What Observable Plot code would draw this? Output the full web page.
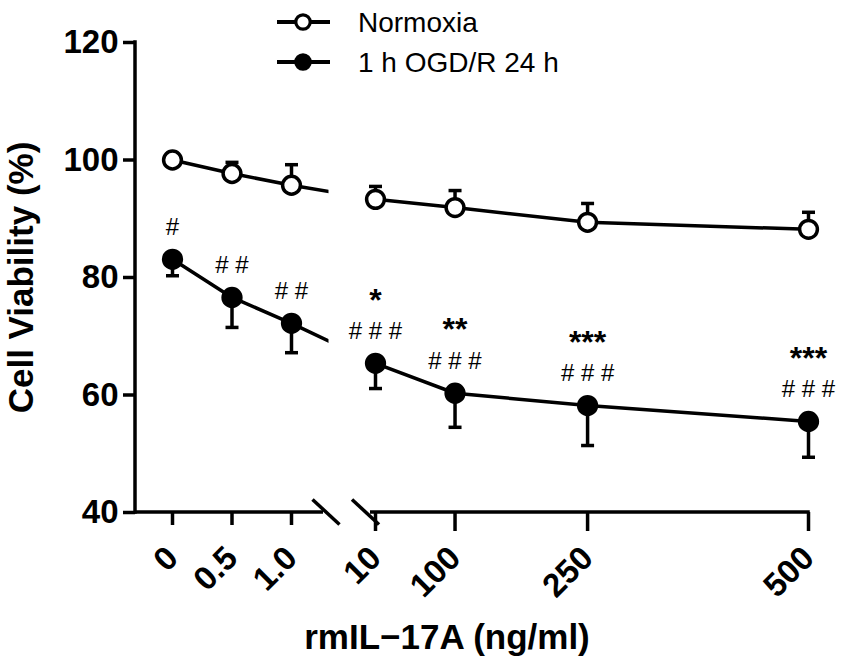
<!DOCTYPE html>
<html>
<head>
<meta charset="utf-8">
<script src="https://cdn.jsdelivr.net/npm/d3@7"></script>
<script src="https://cdn.jsdelivr.net/npm/@observablehq/plot@0.6"></script>
<style>
  body { margin: 0; background: #fff; }
  #chart { position: relative; width: 850px; height: 666px; }
</style>
</head>
<body>
<div id="chart"></div>
<script>
// ---- data ----
const doses = [0, 0.5, 1, 10, 100, 250, 500];
const doseLabels = ["0", "0.5", "1.0", "10", "100", "250", "500"];
const seriesNames = ["Normoxia", "1 h OGD/R 24 h"];
const normoxiaMean = [100.0, 97.7, 95.7, 93.3, 91.9, 89.4, 88.2];
const normoxiaSD   = [0.3, 1.9, 3.5, 2.2, 2.9, 3.2, 2.9];
const ogdMean      = [83.1, 76.6, 72.2, 65.4, 60.3, 58.2, 55.5];
const ogdSD        = [2.8, 5.1, 5.0, 4.3, 5.8, 6.8, 6.1];
const hashMarks    = ["#", "# #", "# #", "# # #", "# # #", "# # #", "# # #"];
const starMarks    = ["", "", "", "*", "**", "***", "***"];
const yTicks = [40, 60, 80, 100, 120];
const yTitle = "Cell Viability (%)";
const xTitle = "rmIL\u221217A (ng/ml)";

// ---- tables ----
const normRows = doses.map((d, i) => ({dose: d, series: seriesNames[0], mean: normoxiaMean[i], err: normoxiaMean[i] + normoxiaSD[i]}));
const ogdRows = doses.map((d, i) => ({dose: d, series: seriesNames[1], mean: ogdMean[i], err: ogdMean[i] - ogdSD[i], hash: hashMarks[i], stars: starMarks[i]}));
const rows = normRows.concat(ogdRows);

const W = 850, H = 666;
const font = "'Liberation Sans', Arial, Helvetica, sans-serif";
const capSymbol = {
  draw(context, size) {
    const w = Math.sqrt(size / Math.PI);
    context.moveTo(-w, 0);
    context.lineTo(w, 0);
  }
};
const tickLabel = d => doseLabels[doses.indexOf(d)];
const LW = 3.5;

const plot = Plot.plot({
  width: W,
  height: H,
  marginLeft: 135,
  marginRight: 42,
  marginTop: 42,
  marginBottom: 154,
  style: {fontFamily: font, background: "white", overflow: "visible", color: "black"},
  x: {type: "linear", domain: [0, 1, 10, 500], range: [172, 291, 375, 808]},
  y: {domain: [40, 120]},
  marks: [
    Plot.line(rows, {x: "dose", y: "mean", z: "series", stroke: "black", strokeWidth: LW}),
    Plot.ruleX(rows, {x: "dose", y1: "mean", y2: "err", stroke: "black", strokeWidth: LW}),
    Plot.dot(rows, {x: "dose", y: "err", symbol: capSymbol, r: 6.5, fill: "none", stroke: "black", strokeWidth: LW}),
    Plot.dot(normRows, {x: "dose", y: "mean", r: 8.9, fill: "white", stroke: "black", strokeWidth: LW}),
    Plot.dot(ogdRows, {x: "dose", y: "mean", r: 8.9, fill: "black", stroke: "black", strokeWidth: LW}),
    Plot.text(ogdRows, {x: "dose", y: "mean", text: "hash", dy: -32, fontSize: 24, fill: "black"}),
    Plot.text(ogdRows.filter(d => d.stars), {x: "dose", y: "mean", text: "stars", dy: -63, fontSize: 32, fontWeight: "bold", fill: "black"}),
    Plot.axisY({ticks: yTicks, tickSize: 12, tickPadding: 5, fontSize: 33, fontWeight: "bold", strokeWidth: LW, label: null}),
    Plot.axisX({ticks: doses.slice(0, 3), tickFormat: tickLabel, tickSize: 13, tickPadding: 27, tickRotate: -45, fontSize: 33, fontWeight: "bold", strokeWidth: LW, label: null}),
    Plot.axisX({ticks: doses.slice(3), tickFormat: tickLabel, tickSize: 19, tickPadding: 21, tickRotate: -45, fontSize: 33, fontWeight: "bold", strokeWidth: LW, label: null}),
    Plot.text([yTitle], {frameAnchor: "left", text: d => d, textAnchor: "middle", lineAnchor: "middle", rotate: -90, dx: -114, fontSize: 35, fontWeight: "bold", fill: "black"}),
    Plot.text([xTitle], {frameAnchor: "bottom", text: d => d, textAnchor: "middle", lineAnchor: "middle", dx: -25, dy: 125, fontSize: 35, fontWeight: "bold", fill: "black"})
  ]
});

document.getElementById("chart").appendChild(plot);

// ---- axis lines with break, clipping of the lines across the break, legend ----
const xs = plot.scale("x");
const ys = plot.scale("y");
const svg = d3.select(plot);
const x1 = xs.apply(1), x10 = xs.apply(10), x500 = xs.apply(500);
const y0 = ys.apply(40), yTop = ys.apply(120);
const left = 135;

const defs = svg.insert("defs", ":first-child");
const cp = defs.append("clipPath").attr("id", "break-clip");
cp.append("rect").attr("x", 0).attr("y", 0).attr("width", x1 + 37).attr("height", H);
cp.append("rect").attr("x", x10).attr("y", 0).attr("width", W - x10).attr("height", H);
svg.selectAll('g[aria-label="line"]').attr("clip-path", "url(#break-clip)");

const ax = svg.append("g").attr("stroke", "black").attr("stroke-width", LW).attr("fill", "none");
ax.append("line").attr("x1", left).attr("x2", left).attr("y1", yTop - LW / 2).attr("y2", y0 + LW / 2);
ax.append("line").attr("x1", left).attr("x2", x1 + 32).attr("y1", y0).attr("y2", y0);
ax.append("line").attr("x1", x10 - 5).attr("x2", x500 + LW / 2).attr("y1", y0).attr("y2", y0);
[x1 + 35, x10 - 9.5].forEach(cx => {
  ax.append("line").attr("x1", cx - 13.5).attr("y1", y0 - 12.5).attr("x2", cx + 13.5).attr("y2", y0 + 12.5);
});

const legend = svg.append("g").attr("font-family", font).attr("text-anchor", "start");
seriesNames.forEach((name, i) => {
  const cy = 22 + i * 40;
  legend.append("line").attr("x1", 277).attr("x2", 330).attr("y1", cy).attr("y2", cy)
    .attr("stroke", "black").attr("stroke-width", 4);
  legend.append("circle").attr("cx", 303).attr("cy", cy).attr("r", 7.2)
    .attr("fill", i === 0 ? "white" : "black").attr("stroke", "black").attr("stroke-width", 3.2);
  legend.append("text").attr("x", 358).attr("y", cy + 9.5).attr("font-size", 28)
    .attr("text-anchor", "start").attr("fill", "black").text(name);
});
</script>
</body>
</html>
